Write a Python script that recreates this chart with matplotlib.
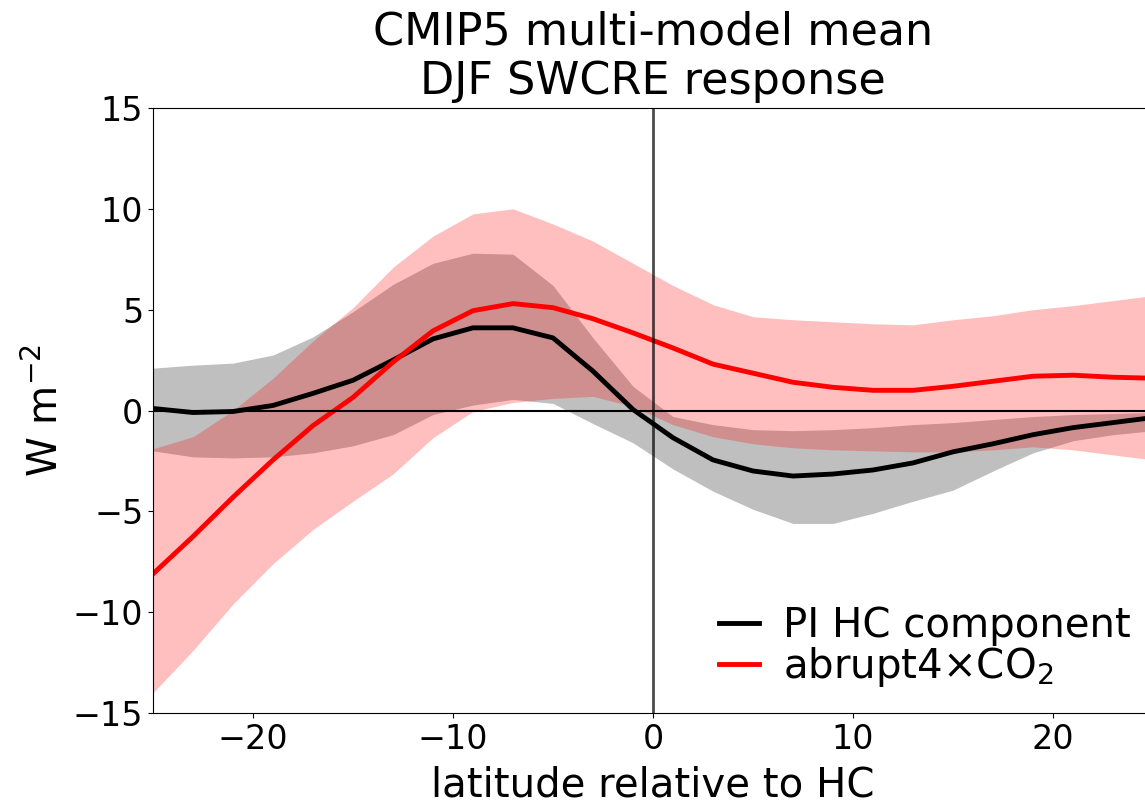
import numpy as np
import matplotlib
matplotlib.use("Agg")
import matplotlib.pyplot as plt

# latitude relative to HC edge
lat = [-25, -23, -21, -19, -17, -15, -13, -11, -9, -7, -5, -3, -1,
       1, 3, 5, 7, 9, 11, 13, 15, 17, 19, 21, 23, 25]

# PI HC component (multi-model mean and spread)
pi_mean = [0.1, -0.1, -0.05, 0.25, 0.85, 1.5, 2.5, 3.55, 4.1, 4.1, 3.6, 1.95, 0.05,
           -1.35, -2.45, -3.0, -3.25, -3.15, -2.95, -2.6, -2.05, -1.65, -1.2, -0.85, -0.6, -0.35]
pi_hi = [2.1, 2.25, 2.35, 2.75, 3.65, 4.9, 6.25, 7.3, 7.8, 7.75, 6.2, 3.6, 1.2,
         -0.3, -0.7, -0.95, -1.0, -0.95, -0.85, -0.7, -0.6, -0.45, -0.3, -0.2, -0.15, -0.1]
pi_lo = [-2.0, -2.3, -2.35, -2.3, -2.1, -1.75, -1.2, -0.2, 0.27, 0.55, 0.35, -0.65, -1.6,
         -2.9, -4.0, -4.9, -5.6, -5.6, -5.1, -4.5, -3.95, -3.0, -2.1, -1.5, -1.2, -1.0]

# abrupt4xCO2 response
co2_mean = [-8.1, -6.25, -4.3, -2.45, -0.75, 0.65, 2.4, 3.95, 4.95, 5.3, 5.1, 4.55, 3.85,
            3.1, 2.3, 1.85, 1.4, 1.15, 1.0, 1.0, 1.2, 1.45, 1.7, 1.75, 1.65, 1.6]
co2_hi = [-1.9, -1.3, 0.0, 1.6, 3.45, 5.1, 7.1, 8.65, 9.75, 10.0, 9.25, 8.4, 7.3,
          6.2, 5.25, 4.65, 4.5, 4.4, 4.3, 4.25, 4.5, 4.7, 5.0, 5.2, 5.45, 5.7]
co2_lo = [-14.0, -11.9, -9.6, -7.6, -5.9, -4.5, -3.15, -1.35, -0.05, 0.4, 0.6, 0.7, 0.2,
          -0.7, -1.3, -1.65, -1.85, -1.95, -2.0, -2.05, -2.05, -1.95, -1.8, -1.95, -2.2, -2.45]

fig = plt.figure(figsize=(11.45, 8.07), dpi=100)
ax = fig.add_axes([153/1145, 94/807, 1000/1145, 605/807])

ax.fill_between(lat, pi_lo, pi_hi, color='k', alpha=0.25, lw=0)
ax.fill_between(lat, co2_lo, co2_hi, color='r', alpha=0.25, lw=0)
ax.plot(lat, pi_mean, color='k', lw=3.5, label='PI HC component')
ax.plot(lat, co2_mean, color='r', lw=3.5, label=r'abrupt4$\times$CO$_2$')
ax.axhline(0, color='k', lw=1.5)
ax.axvline(0, color='k', lw=2, alpha=0.7)

ax.set_xlim(-25, 25)
ax.set_ylim(-15, 15)
ax.set_xticks([-20, -10, 0, 10, 20])
ax.set_yticks([-15, -10, -5, 0, 5, 10, 15])
ax.tick_params(labelsize=24)
ax.set_xlabel('latitude relative to HC', fontsize=29, labelpad=7)
ax.set_ylabel(r'W m$^{-2}$', fontsize=29)
ax.set_title('CMIP5 multi-model mean\nDJF SWCRE response', fontsize=32, pad=10)

ax.legend(loc='lower right', fontsize=29, frameon=False, handlelength=1.0,
          handletextpad=0.6, labelspacing=-0.02, bbox_to_anchor=(1.014, -0.02))

fig.savefig('out.png', dpi=100)
